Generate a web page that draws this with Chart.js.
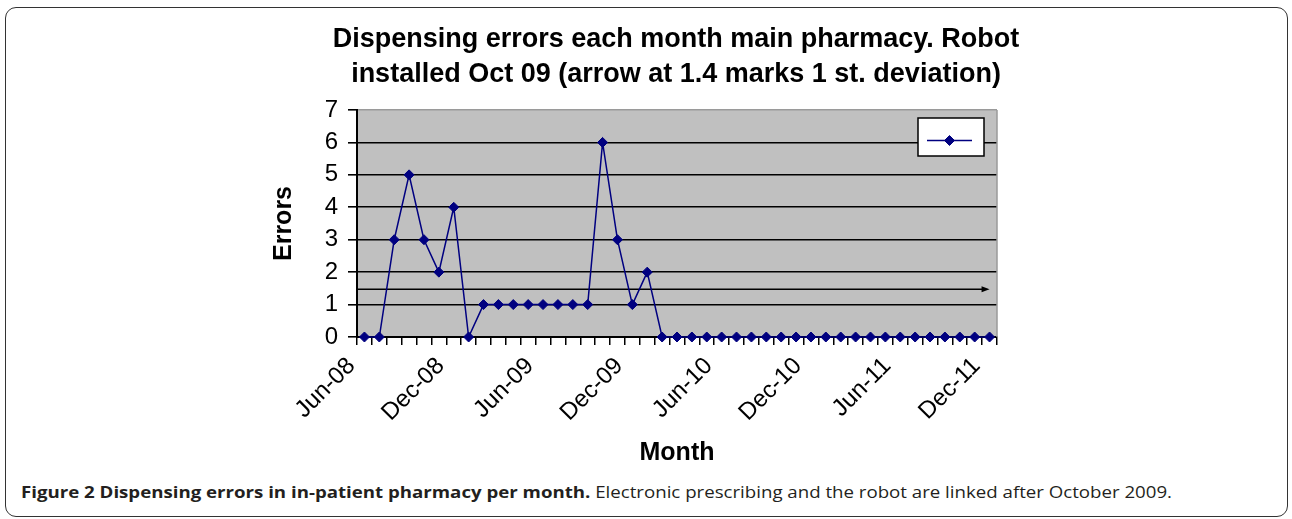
<!DOCTYPE html>
<html><head><meta charset="utf-8">
<script src="https://cdn.jsdelivr.net/npm/chart.js@4.4.1/dist/chart.umd.min.js"></script>
<style>
html,body{margin:0;padding:0;background:#fff;width:1292px;height:519px;overflow:hidden;}
#frame{position:absolute;left:5px;top:7px;width:1283px;height:510px;border:1.5px solid #333;border-radius:11px;box-sizing:border-box;}
#wrap{position:absolute;left:0;top:0;width:1292px;height:470px;}
#caption{position:absolute;left:21px;top:482px;font-family:"Open Sans","Noto Sans",sans-serif;font-size:16px;line-height:20px;color:#231f20;white-space:nowrap;transform-origin:0 0;}
</style></head><body>
<div id="frame"></div>
<div id="wrap"><canvas id="c" width="1292" height="470"></canvas></div>
<div id="caption"><b>Figure 2 Dispensing errors in in-patient pharmacy per month.</b> Electronic prescribing and the robot are linked after October 2009.</div>
<script>
const months = [
  'Jun-08','Jul-08','Aug-08','Sep-08','Oct-08','Nov-08','Dec-08',
  'Jan-09','Feb-09','Mar-09','Apr-09','May-09','Jun-09','Jul-09','Aug-09','Sep-09','Oct-09','Nov-09','Dec-09',
  'Jan-10','Feb-10','Mar-10','Apr-10','May-10','Jun-10','Jul-10','Aug-10','Sep-10','Oct-10','Nov-10','Dec-10',
  'Jan-11','Feb-11','Mar-11','Apr-11','May-11','Jun-11','Jul-11','Aug-11','Sep-11','Oct-11','Nov-11','Dec-11'
];
const errors = [
  0,0,3,5,3,2,4,
  0,1,1,1,1,1,1,1,1,6,3,1,
  2,0,0,0,0,0,0,0,0,0,0,0,
  0,0,0,0,0,0,0,0,0,0,0,0
];
const tickLabels = ['Jun-08','Dec-08','Jun-09','Dec-09','Jun-10','Dec-10','Jun-11','Dec-11'];
const yMin = 0, yMax = 7, yStep = 1;
const sdLevel = 1.47; // arrow as drawn in the picture ("arrow at 1.4")
const titleLines = ['Dispensing errors each month main pharmacy. Robot','installed Oct 09 (arrow at 1.4 marks 1 st. deviation)'];
const xTitle = 'Month';
const yTitle = 'Errors';

const NAVY = '#000080';
Chart.defaults.font.family = '"Liberation Sans", Arial, sans-serif';
Chart.defaults.color = '#000';

function diamond(ctx, x, y, r){
  ctx.beginPath();
  ctx.moveTo(x, y - r); ctx.lineTo(x + r, y); ctx.lineTo(x, y + r); ctx.lineTo(x - r, y);
  ctx.closePath(); ctx.fill(); ctx.stroke();
}

const plotBg = {
  id: 'plotBg',
  beforeDraw(chart){
    const {ctx, chartArea: a} = chart;
    ctx.save();
    ctx.fillStyle = '#c0c0c0';
    ctx.fillRect(a.left, a.top, a.right - a.left, a.bottom - a.top);
    ctx.restore();
  },
  beforeDatasetsDraw(chart){
    const {ctx, chartArea: a, scales: {x, y}} = chart;
    ctx.save();
    ctx.strokeStyle = '#9a9a9a'; ctx.lineWidth = 1.5;
    ctx.beginPath(); ctx.moveTo(a.right, a.top); ctx.lineTo(a.right, a.bottom); ctx.stroke();
    const py = y.getPixelForValue(sdLevel);
    const xe = x.getPixelForValue(months.length - 1);
    ctx.strokeStyle = '#000'; ctx.fillStyle = '#000'; ctx.lineWidth = 1.5;
    ctx.beginPath(); ctx.moveTo(a.left, py); ctx.lineTo(xe - 5, py); ctx.stroke();
    ctx.beginPath(); ctx.moveTo(xe, py); ctx.lineTo(xe - 8, py - 3); ctx.lineTo(xe - 8, py + 3); ctx.closePath(); ctx.fill();
    ctx.restore();
  },
  afterDatasetsDraw(chart){
    const {ctx, chartArea: a} = chart;
    const ds = chart.data.datasets[0];
    const w = 66, h = 38;
    const x0 = a.right - 79, y0 = a.top + 8;
    ctx.save();
    ctx.fillStyle = '#fff'; ctx.fillRect(x0, y0, w, h);
    ctx.strokeStyle = '#000'; ctx.lineWidth = 1.5; ctx.strokeRect(x0, y0, w, h);
    const cy = y0 + 22.5;
    ctx.strokeStyle = ds.borderColor; ctx.lineWidth = ds.borderWidth;
    ctx.beginPath(); ctx.moveTo(x0 + 9, cy); ctx.lineTo(x0 + 54, cy); ctx.stroke();
    ctx.fillStyle = ds.pointBackgroundColor; ctx.strokeStyle = ds.pointBorderColor; ctx.lineWidth = 1;
    diamond(ctx, x0 + 31.5, cy, ds.pointRadius);
    ctx.restore();
  }
};

new Chart(document.getElementById('c'), {
  type: 'line',
  data: {
    labels: months,
    datasets: [{
      label: '',
      data: errors,
      yAxisID: 'y',
      borderColor: NAVY,
      borderWidth: 1.5,
      pointStyle: 'rectRot',
      pointRadius: 5,
      pointBackgroundColor: NAVY,
      pointBorderColor: NAVY,
      pointBorderWidth: 1,
      tension: 0,
      clip: false
    }]
  },
  options: {
    responsive: false,
    animation: false,
    devicePixelRatio: 1,
    layout: { padding: { left: 60, right: 0, top: 0, bottom: 0 } },
    plugins: {
      legend: { display: false },
      tooltip: { enabled: false },
      title: {
        display: true,
        text: titleLines,
        color: '#000',
        font: { size: 27, weight: 'bold', lineHeight: 1.3 },
        padding: { top: 22, bottom: 17.8 }
      }
    },
    scales: {
      x: {
        type: 'category',
        offset: true,
        afterFit(s){ s.height = 133; },
        grid: { display: true, drawOnChartArea: false, offset: true, tickLength: 8, color: '#000', lineWidth: 1.5 },
        border: { display: true, color: '#000', width: 2 },
        ticks: {
          autoSkip: false, maxRotation: 45, minRotation: 45,
          labelOffset: -13, padding: 7,
          font: { size: 24 }, color: '#000',
          callback(v, i){ const l = months[i]; return tickLabels.includes(l) ? l : ''; }
        },
        title: { display: true, text: xTitle, color: '#000', font: { size: 25, weight: 'bold' }, padding: { top: 0, bottom: 2 } }
      },
      y: {
        position: 'left',
        min: yMin, max: yMax,
        afterFit(s){ s.width = 297; },
        grid: {
          color: (c) => c.tick && c.tick.value === yMax ? '#9a9a9a' : '#000',
          tickColor: '#000',
          lineWidth: 1.6, tickLength: 9
        },
        border: { display: true, color: '#000', width: 2 },
        ticks: { stepSize: yStep, padding: 10, font: { size: 24 }, color: '#000' },
        title: { display: true, text: yTitle, color: '#000', font: { size: 25, weight: 'bold' }, padding: { top: 209, bottom: 0 } }
      },
      spacer: {
        type: 'linear',
        position: 'right',
        display: true,
        afterFit(s){ s.width = 295; },
        grid: { display: false, drawTicks: false },
        border: { display: false },
        ticks: { display: false }
      }
    }
  },
  plugins: [plotBg]
});

const cap = document.getElementById('caption');
const cw = cap.getBoundingClientRect().width;
cap.style.transform = 'scaleX(' + (1151 / cw) + ')';
</script>
</body></html>
